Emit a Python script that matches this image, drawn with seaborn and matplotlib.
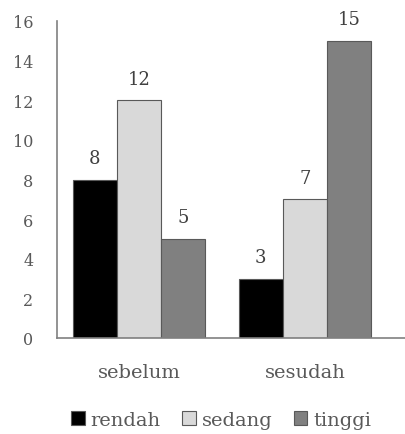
import pandas as pd
import numpy as np
import seaborn as sns
import matplotlib.pyplot as plt

# data
periods = ['sebelum', 'sesudah']
levels = ['rendah', 'sedang', 'tinggi']
rendah = [8, 3]
sedang = [12, 7]
tinggi = [5, 15]
yticks = [0, 2, 4, 6, 8, 10, 12, 14, 16]

df = pd.DataFrame({
    'periode': periods * 3,
    'level': [l for l in levels for _ in periods],
    'nilai': rendah + sedang + tinggi,
})

sns.set_style('white')
plt.rcParams['font.family'] = ['DejaVu Serif']
txt = '#595959'

fig = plt.figure(figsize=(4.06, 4.35), dpi=100)
ax = fig.add_axes([57 / 406, 1 - 339 / 435, 1 - 57 / 406, (339 - 22) / 435])

palette = {'rendah': '#000000', 'sedang': '#d9d9d9', 'tinggi': '#808080'}
sns.barplot(data=df, x='periode', y='nilai', hue='level', hue_order=levels,
            order=periods, palette=palette, width=0.8, saturation=1,
            edgecolor='#595959', linewidth=0.8, ax=ax)

for cont in ax.containers:
    ax.bar_label(cont, labels=[f'{v:g}' for v in cont.datavalues],
                 padding=9, fontsize=13, color='#404040')

ax.set_ylim(0, 16)
ax.set_xlim(-0.494, 1.608)
ax.set_yticks(yticks)
ax.set_xlabel('')
ax.set_ylabel('')
ax.tick_params(axis='y', length=0, pad=17, labelsize=11.5, labelcolor=txt)
ax.tick_params(axis='x', length=0, pad=18, labelsize=14, labelcolor=txt)
for s in ['top', 'right']:
    ax.spines[s].set_visible(False)
for s in ['left', 'bottom']:
    ax.spines[s].set_color('#808080')
    ax.spines[s].set_linewidth(1.2)

handles, labels = ax.get_legend_handles_labels()
ax.get_legend().remove()
leg = fig.legend(handles, labels, loc='center', bbox_to_anchor=(0.545, 0.032),
                 ncol=3, frameon=False, fontsize=14, handlelength=0.7,
                 handleheight=0.7, handletextpad=0.3, columnspacing=1.1)
for t in leg.get_texts():
    t.set_color(txt)

fig.savefig('out.png', dpi=100)
